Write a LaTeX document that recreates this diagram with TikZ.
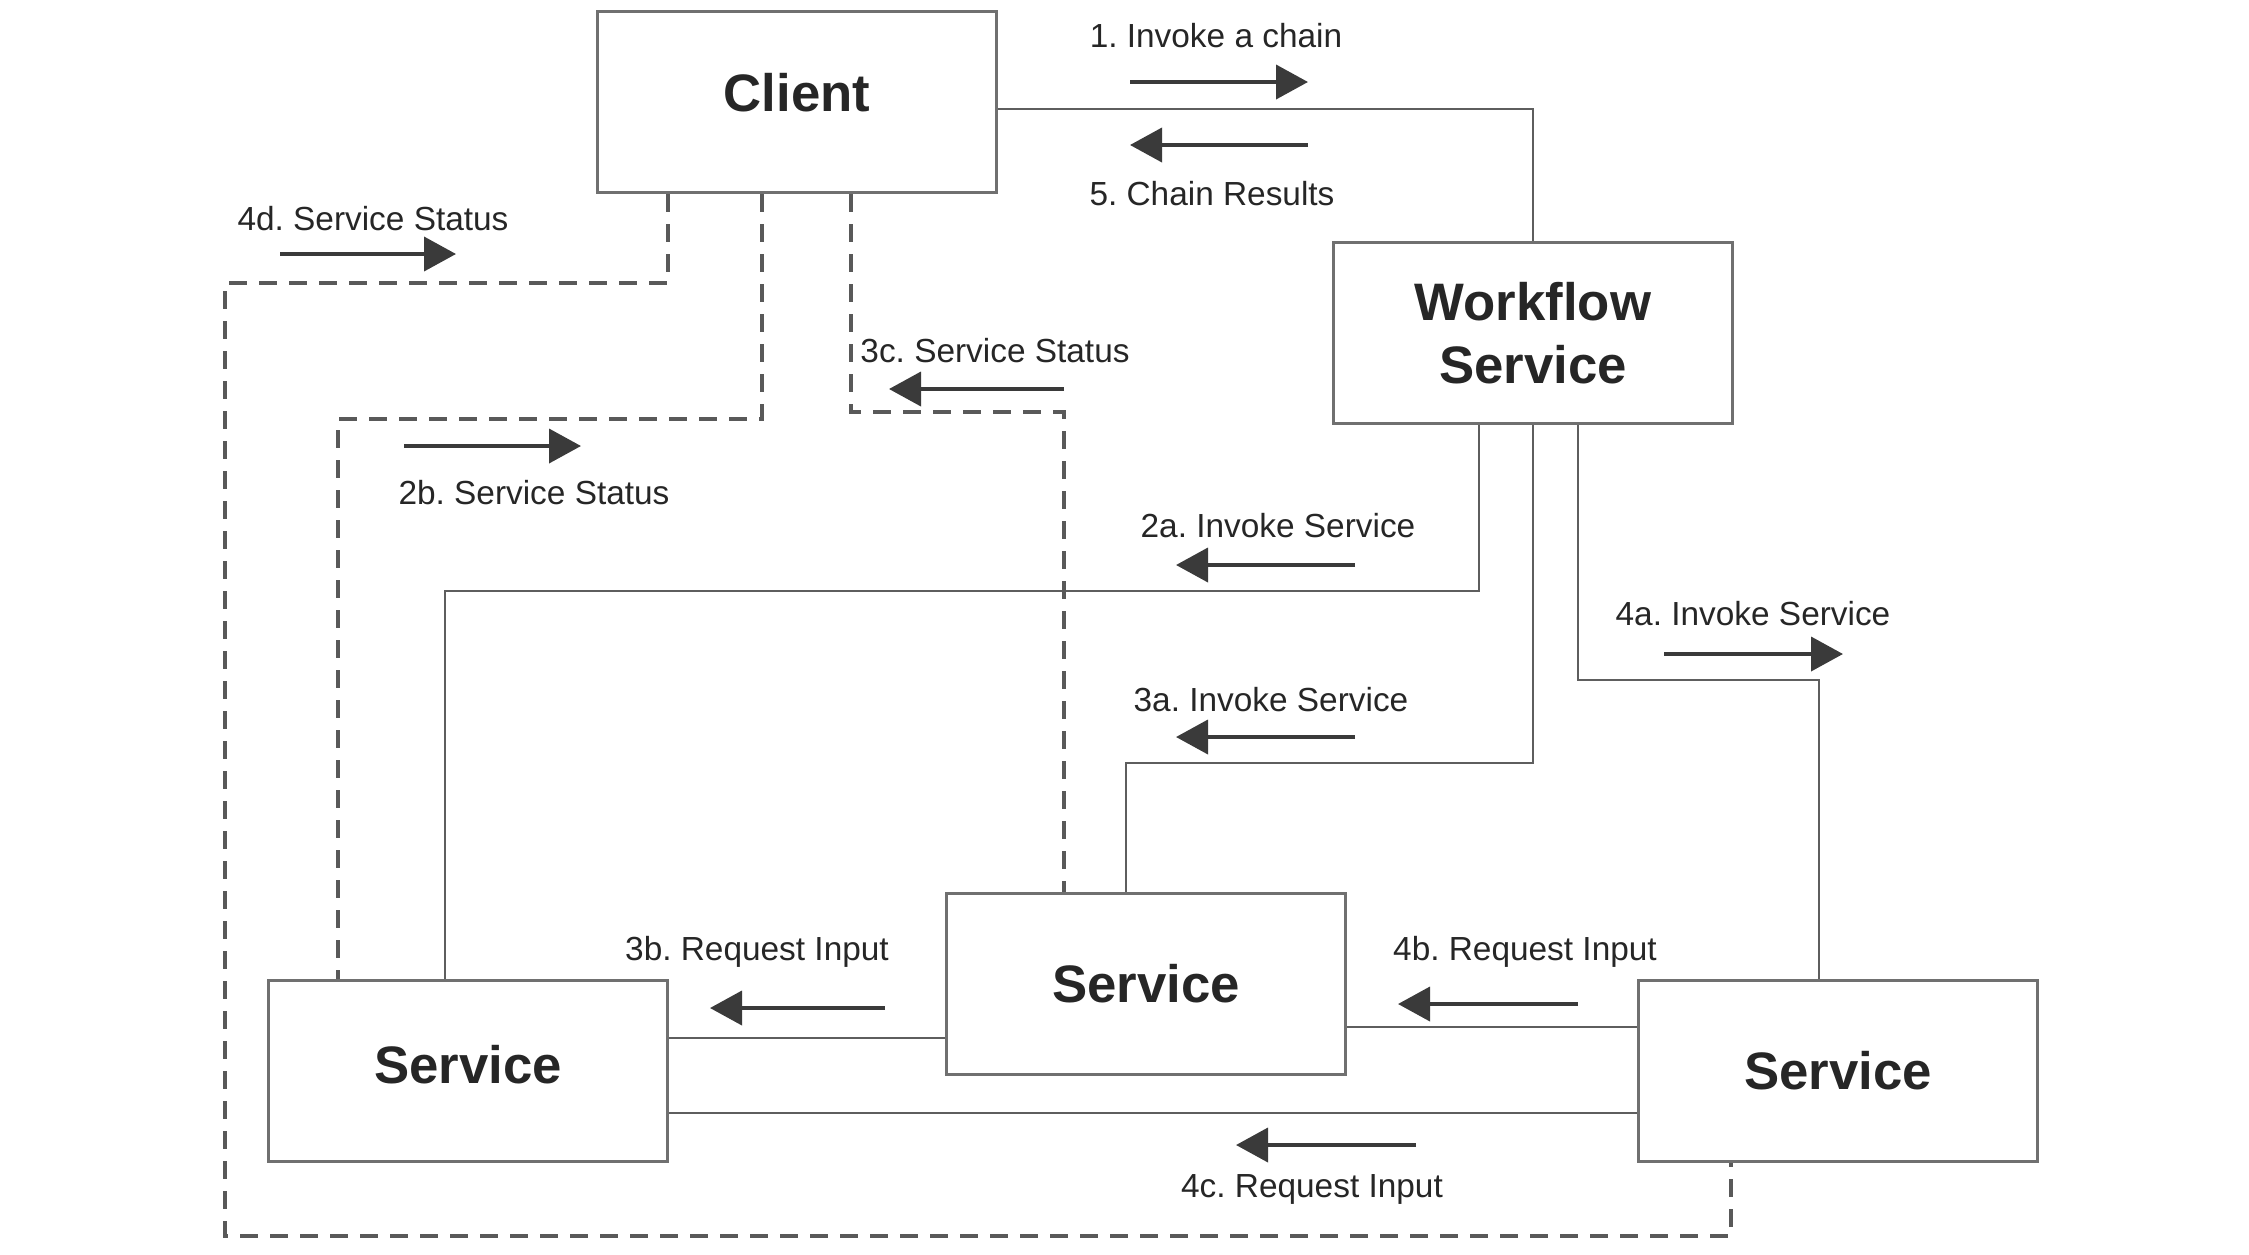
\documentclass[tikz,border=0pt]{standalone}
\usepackage{fontspec}
\setmainfont{Liberation Sans}
\usepackage{xcolor}
\usepackage{tikz}
\usetikzlibrary{positioning,calc,arrows.meta}
\frenchspacing

\definecolor{boxgray}{HTML}{707070}
\definecolor{linegray}{HTML}{5E5E5E}
\definecolor{arrowgray}{HTML}{3A3A3A}

\begin{document}
\begin{tikzpicture}[x=0.1mm, y=-0.1mm,
	box/.style={draw=boxgray, line width=0.9pt, fill=white, minimum width=39.9mm, minimum height=18.1mm, inner sep=0pt, align=center, font=\fontsize{15}{17}\selectfont\bfseries, text=black!85},
	link/.style={draw=linegray, line width=0.8pt},
	status/.style={draw=black!65, line width=0.95pt, dash pattern=on 1.8mm off 1.2mm},
	flow/.style={draw=arrowgray, line width=1.1pt, -{Triangle[length=3.2mm, width=3.4mm]}},
	lbl/.style={font=\fontsize{9.5}{11}\selectfont, text=black!85, inner sep=0pt}
	]

	\useasboundingbox (0,0) rectangle (2249,1254);

	% boxes
	\node[box] (client) at (797,102) {\raisebox{2mm}{Client}};
	\node[box, font=\fontsize{15}{18}\selectfont\bfseries] (wf) at (1533,333) {Workflow\\Service};
	\node[box] (svcL) at (468,1071) {\raisebox{1.4mm}{Service}};
	\node[box] (svcM) at (1146,984) {Service};
	\node[box] (svcR) at (1838,1071) {Service};

	% client <-> workflow
	\draw[link] ([yshift=-0.7mm]client.east) -| (wf.north);

	% invocations
	\draw[link] (wf.south -| 1479,0) |- (445,591) -- (svcL.north -| 445,0);
	\draw[link] (wf.south) |- (1126,763) -- (svcM.north -| 1126,0);
	\draw[link] (wf.south -| 1578,0) |- (1819,680) -- (svcR.north -| 1819,0);

	% status back to client
	\draw[status] (client.south -| 668,0) |- (225,283) |- (1731,1236) -- (svcR.south -| 1731,0);
	\draw[status] (client.south -| 762,0) |- (338,419) -- (svcL.north -| 338,0);
	\draw[status] (client.south -| 851,0) |- (1064,412) -- (svcM.north -| 1064,0);

	% input requests
	\draw[link] (svcM.west |- 0,1038) -- (svcL.east |- 0,1038);
	\draw[link] (svcR.west |- 0,1027) -- (svcM.east |- 0,1027);
	\draw[link] (svcR.west |- 0,1113) -- (svcL.east |- 0,1113);

	% labels
	\node[lbl] (l1) at (1216,36) {1. Invoke a chain};
	\node[lbl] (l5) at (1212,194) {5. Chain Results};
	\node[lbl] (l4d) at (373,219) {4d. Service Status};
	\node[lbl] (l2b) at (534,493) {2b. Service Status};
	\node[lbl] (l3c) at (995,351) {3c. Service Status};
	\node[lbl] (l2a) at (1278,526) {2a. Invoke Service};
	\node[lbl] (l3a) at (1271,700) {3a. Invoke Service};
	\node[lbl] (l4a) at (1753,614) {4a. Invoke Service};
	\node[lbl] (l3b) at (757,952) {3b. Request Input};
	\node[lbl] (l4b) at (1525,952) {4b. Request Input};
	\node[lbl] (l4c) at (1312,1189) {4c. Request Input};

	% direction arrows
	\draw[flow] (1130,82) -- (1308,82);
	\draw[flow] (1308,145) -- (1130,145);
	\draw[flow] (280,254) -- (456,254);
	\draw[flow] (404,446) -- (581,446);
	\draw[flow] (1064,389) -- (889,389);
	\draw[flow] (1355,565) -- (1176,565);
	\draw[flow] (1355,737) -- (1176,737);
	\draw[flow] (1664,654) -- (1843,654);
	\draw[flow] (885,1008) -- (710,1008);
	\draw[flow] (1578,1004) -- (1398,1004);
	\draw[flow] (1416,1145) -- (1236,1145);

\end{tikzpicture}
\end{document}
